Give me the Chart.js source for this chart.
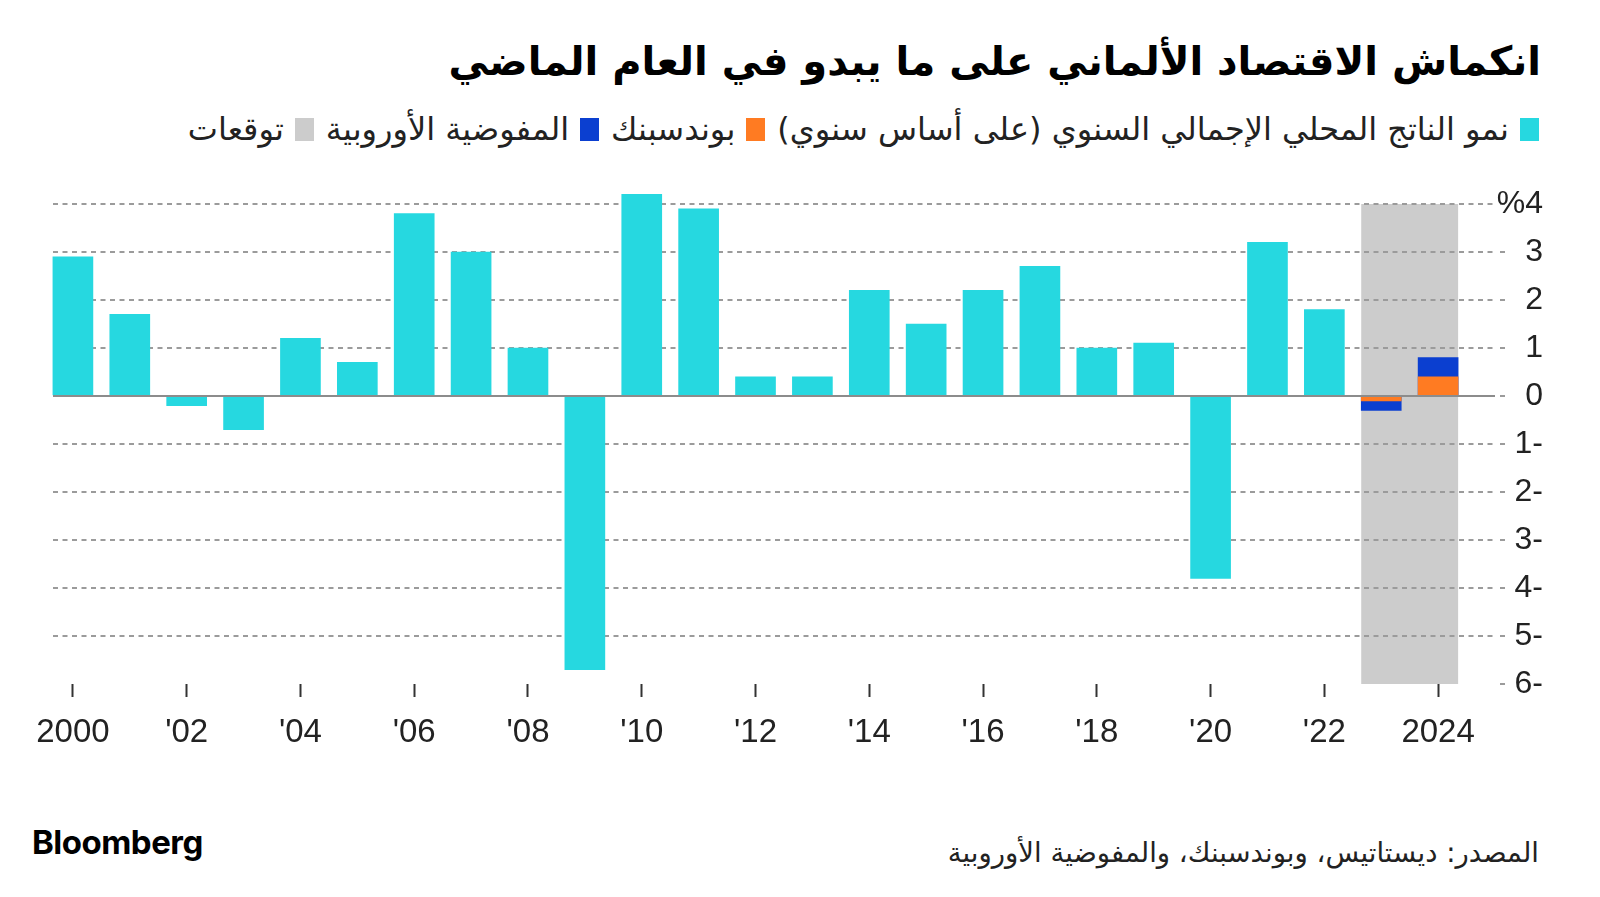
<!DOCTYPE html>
<html lang="ar">
<head>
<meta charset="utf-8">
<script src="https://cdn.jsdelivr.net/npm/chart.js@4.4.1/dist/chart.umd.min.js"></script>
<style>
  body { margin: 0; background: #fff; width: 1600px; height: 897px; overflow: hidden; position: relative; font-family: "DejaVu Sans", sans-serif; color: #111; }
  #title { position: absolute; right: 59px; top: 38px; font-size: 40px; font-weight: bold; direction: rtl; white-space: nowrap; color: #000; }
  #legend { position: absolute; right: 61px; top: 110px; direction: rtl; display: flex; align-items: center; font-size: 32px; white-space: nowrap; color: #222; }
  #legend .item { display: flex; align-items: center; margin-left: 12px; }
  #legend .box { display: inline-block; width: 19px; height: 23px; margin-left: 11px; }
  #wrap { position: absolute; left: 0; top: 160px; width: 1600px; height: 604px; }
  #logo { position: absolute; left: 32px; top: 822px; font-family: Inter, sans-serif; font-weight: 700; font-size: 33px; color: #000; letter-spacing: -0.5px; }
  #source { position: absolute; right: 61px; top: 836px; direction: rtl; font-size: 27.5px; white-space: nowrap; color: #222; }
</style>
</head>
<body>
<div id="title">انكماش الاقتصاد الألماني على ما يبدو في العام الماضي</div>
<div id="legend"></div>
<div id="wrap"><canvas id="chart"></canvas></div>
<div id="logo">Bloomberg</div>
<div id="source">المصدر: ديستاتيس، وبوندسبنك، والمفوضية الأوروبية</div>
<script>
const years = [2000, 2001, 2002, 2003, 2004, 2005, 2006, 2007, 2008, 2009, 2010, 2011,
               2012, 2013, 2014, 2015, 2016, 2017, 2018, 2019, 2020, 2021, 2022];
const gdpGrowth = [2.9, 1.7, -0.2, -0.7, 1.2, 0.7, 3.8, 3.0, 1.0, -5.7, 4.2, 3.9,
                   0.4, 0.4, 2.2, 1.5, 2.2, 2.7, 1.0, 1.1, -3.8, 3.2, 1.8];
const forecastYears = [2023, 2024];
const bundesbank = [-0.1, 0.4];
const euCommission = [-0.3, 0.8];

const xTickYears = [2000, 2002, 2004, 2006, 2008, 2010, 2012, 2014, 2016, 2018, 2020, 2022, 2024];
const xTickLabels = ["2000", "'02", "'04", "'06", "'08", "'10", "'12", "'14", "'16", "'18", "'20", "'22", "2024"];
const yTickValues = [4, 3, 2, 1, 0, -1, -2, -3, -4, -5, -6];
const yTickLabels = ["%4", "3", "2", "1", "0", "1-", "2-", "3-", "4-", "5-", "6-"];

const legendLabels = ["نمو الناتج المحلي الإجمالي السنوي (على أساس سنوي)", "بوندسبنك", "المفوضية الأوروبية", "توقعات"];
const legendColors = ["#26d8e0", "#ff7b22", "#0b3fd0", "#cccccc"];

// legend row (right to left)
legendLabels.forEach((txt, i) => {
    const el = document.createElement("span");
    el.className = "item";
    el.innerHTML = '<span class="box" style="background:' + legendColors[i] + '"></span>' + txt;
    document.getElementById("legend").appendChild(el);
});

const BAR_W = 40;
const tickFont = {family: "'Liberation Sans Narrow', 'Liberation Sans', sans-serif", size: 33};

// grey forecast band, drawn before the grid
const forecastBand = {
    id: "forecastBand",
    beforeDraw(chart) {
        const {ctx, scales: {x, y}} = chart;
        const x0 = x.getPixelForValue(forecastYears[0]) - BAR_W / 2;
        const x1 = x.getPixelForValue(forecastYears[forecastYears.length - 1]) + BAR_W / 2;
        const y0 = y.getPixelForValue(y.max);
        const y1 = y.getPixelForValue(y.min);
        ctx.save();
        ctx.fillStyle = legendColors[3];
        ctx.fillRect(x0, y0, x1 - x0, y1 - y0);
        ctx.restore();
    }
};

// solid zero line above the bars
const zeroLine = {
    id: "zeroLine",
    afterDatasetsDraw(chart) {
        const {ctx, chartArea, scales: {y}} = chart;
        const py = Math.round(y.getPixelForValue(0));
        ctx.save();
        ctx.strokeStyle = "#8c8c8c";
        ctx.lineWidth = 2;
        ctx.beginPath();
        ctx.moveTo(chartArea.left, py);
        ctx.lineTo(chartArea.right, py);
        ctx.stroke();
        ctx.restore();
    }
};

new Chart("chart", {
    type: "bar",
    data: {
        datasets: [{
            label: legendLabels[0],
            data: years.map((yr, i) => ({x: yr, y: gdpGrowth[i]})),
            backgroundColor: legendColors[0],
            clip: false,
            order: 3
        }, {
            label: legendLabels[1],
            data: forecastYears.map((yr, i) => ({x: yr, y: bundesbank[i]})),
            backgroundColor: legendColors[1],
            order: 1
        }, {
            label: legendLabels[2],
            data: forecastYears.map((yr, i) => ({x: yr, y: euCommission[i]})),
            backgroundColor: legendColors[2],
            order: 2
        }]
    },
    options: {
        responsive: true,
        maintainAspectRatio: false,
        animation: false,
        layout: {padding: {left: 53, right: 57, top: 44, bottom: 0}},
        datasets: {bar: {barThickness: BAR_W, grouped: false, borderWidth: 0}},
        plugins: {
            legend: {display: false},
            tooltip: {enabled: false}
        },
        scales: {
            x: {
                type: "linear",
                min: 1999.65,
                max: 2025,
                offset: false,
                afterBuildTicks: s => { s.ticks = xTickYears.map(v => ({value: v})); },
                afterFit: s => { s.height = 80; },
                grid: {drawOnChartArea: false, offset: false, tickLength: 13, tickWidth: 2, tickColor: "#333"},
                border: {display: false},
                ticks: {
                    autoSkip: false,
                    maxRotation: 0,
                    padding: 16,
                    color: "#222",
                    font: tickFont,
                    callback: v => xTickLabels[xTickYears.indexOf(v)]
                }
            },
            y: {
                position: "right",
                min: -6,
                max: 4,
                afterBuildTicks: s => { s.ticks = yTickValues.map(v => ({value: v})); },
                afterFit: s => { s.width = 48; },
                grid: {
                    color: c => (c.tick && (c.tick.value === -6 || c.tick.value === 0)) ? "rgba(0,0,0,0)" : "#9b9b9b",
                    lineWidth: 2,
                    tickLength: 10,
                    tickColor: "#9b9b9b",
                    tickWidth: 2,
                    tickBorderDash: [0, 5, 5, 50]
                },
                border: {display: false, dash: [5, 4.5]},
                ticks: {
                    crossAlign: "far",
                    padding: 6,
                    color: "#222",
                    font: {family: tickFont.family, size: 32},
                    callback: v => yTickLabels[yTickValues.indexOf(v)]
                }
            }
        }
    },
    plugins: [forecastBand, zeroLine]
});
</script>
</body>
</html>
